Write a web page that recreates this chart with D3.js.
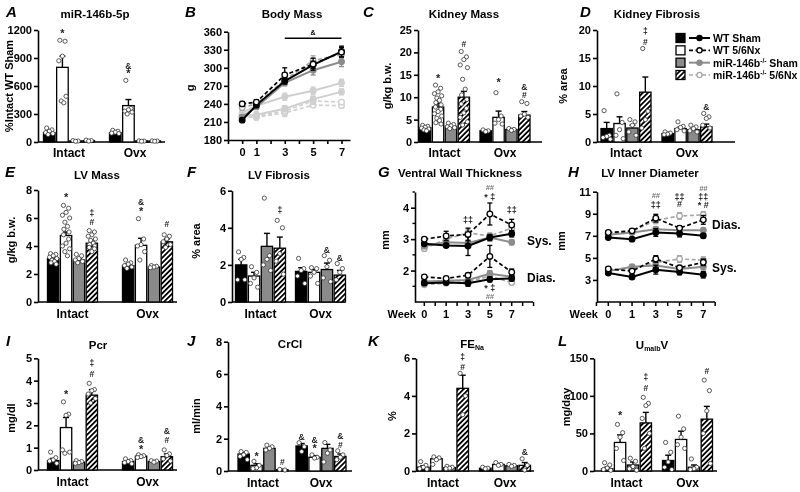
<!DOCTYPE html>
<html><head><meta charset="utf-8">
<script src="https://cdn.jsdelivr.net/npm/d3@7"></script>
<style>body{margin:0;background:#fff} #wrap{transform:translateZ(0);will-change:transform} svg{display:block} text{-webkit-font-smoothing:antialiased}</style>
</head><body><div id="wrap"><svg id="c" width="800" height="492"></svg></div>
<script>
const FONT = "Arial, 'Liberation Sans', Helvetica, sans-serif";
const groups = ["Intact", "Ovx"];
const seriesLabels = ["WT Sham", "WT 5/6Nx", "miR-146b|-/-| Sham", "miR-146b|-/-| 5/6Nx"];
const weeks = [0, 1, 3, 5, 7];

// ---- A miR-146b-5p
const mirTicks = [0, 300, 600, 900, 1200];
const mirMeanIntact = [100, 800, 12, 15];
const mirSemIntact = [15, 120, 3, 4];
const mirMeanOvx = [100, 390, 12, 12];
const mirSemOvx = [10, 65, 3, 3];
const mirPtsIntact = [[150, 130, 115, 100, 90, 80], [1090, 1080, 920, 870, 490, 440, 420], [15, 10, 8], [20, 15, 10]];
const mirPtsOvx = [[125, 115, 105, 95, 90], [660, 360, 345, 330, 320, 300], [12, 10, 8], [12, 10, 8]];
const mirMarks = [["Intact", 1, 1165, "*"], ["Ovx", 1, 735, "*"], ["Ovx", 1, 815, "&"]];

// ---- B Body mass
const bmTicks = [180, 210, 240, 270, 300, 330, 360];
const bmWtSham = [213, 238, 278, 305, 327];
const bmWtShamSem = [3, 4, 5, 6, 9];
const bmWt5 = [240, 243, 288, 306, 326];
const bmWt5Sem = [4, 4, 12, 10, 8];
const bmMiSham = [218, 235, 275, 296, 310];
const bmMiShamSem = [4, 4, 5, 8, 8];
const bmMi5 = [234, 240, 280, 312, 322];
const bmMi5Sem = [4, 4, 6, 8, 6];
const bmOvxWtSham = [225, 237, 252, 262, 275];
const bmOvxWtShamSem = [3, 4, 6, 6, 6];
const bmOvxMiSham = [220, 222, 232, 248, 260];
const bmOvxMiShamSem = [3, 4, 5, 5, 5];
const bmOvxWt5 = [222, 220, 228, 245, 243];
const bmOvxWt5Sem = [3, 7, 9, 6, 4];
const bmOvxMi5 = [218, 218, 225, 238, 237];
const bmOvxMi5Sem = [3, 4, 5, 4, 3];
const bmSigSpan = [3, 7];
const bmSigValue = 349;

// ---- C Kidney mass
const kmTicks = [0, 5, 10, 15, 20, 25];
const kmMeanIntact = [3.2, 7.8, 3.5, 10.0];
const kmSemIntact = [0.3, 0.8, 0.3, 1.3];
const kmMeanOvx = [2.5, 5.5, 2.8, 6.0];
const kmSemOvx = [0.2, 1.4, 0.2, 0.8];
const kmPtsIntact = [[3.7, 3.5, 3.3, 3.1, 2.9, 2.7, 2.5],
  [12.7, 12.0, 11.2, 10.8, 10.3, 9.8, 9.3, 8.8, 8.3, 7.8, 7.3, 6.8, 6.3, 5.8, 5.3, 4.8, 4.3, 4.0],
  [4.2, 3.9, 3.6, 3.4, 3.2, 3.0],
  [20.2, 19.0, 18.4, 17.2, 16.6, 14.0, 11.8, 10.5, 9.5, 8.5, 7.5, 6.5, 5.5, 4.5, 3.8]];
const kmPtsOvx = [[2.7, 2.5, 2.3], [11.0, 5.8, 5.0, 4.2, 4.0], [3.0, 2.8, 2.6], [9.0, 8.6, 6.2, 5.8, 5.5]];
const kmMarks = [["Intact", 1, 14.3, "*"], ["Intact", 3, 21.9, "#"], ["Ovx", 1, 13.3, "*"], ["Ovx", 3, 12.3, "&"], ["Ovx", 3, 10.4, "#"]];

// ---- D Kidney fibrosis
const kfTicks = [0, 5, 10, 15, 20];
const kfMeanIntact = [2.4, 3.3, 2.5, 8.9];
const kfSemIntact = [1.1, 1.2, 0.5, 2.7];
const kfMeanOvx = [1.5, 2.4, 2.2, 2.7];
const kfSemOvx = [0.2, 0.3, 0.3, 0.5];
const kfPtsIntact = [[5.6, 1.2, 1.0, 0.8, 0.5], [8.6, 3.5, 2.2, 1.2, 0.6], [4.0, 3.6, 3.0, 1.8, 1.2], [16.7, 5.5, 4.0, 2.5]];
const kfPtsOvx = [[1.8, 1.6, 1.4, 1.3], [3.6, 2.8, 2.6, 2.2, 2.0], [3.0, 2.7, 2.4, 2.0, 1.8], [5.1, 4.5, 4.2, 3.0, 2.5]];
const kfMarks = [["Intact", 3, 19.8, "‡"], ["Intact", 3, 17.9, "#"], ["Ovx", 3, 6.2, "&"]];

// ---- E LV mass
const lvmTicks = [0, 2, 4, 6, 8];
const lvmMeanIntact = [3.1, 4.75, 3.0, 4.2];
const lvmSemIntact = [0.1, 0.25, 0.1, 0.15];
const lvmMeanOvx = [2.6, 4.05, 2.5, 4.3];
const lvmSemOvx = [0.12, 0.5, 0.05, 0.2];
const lvmPtsIntact = [[3.45, 3.4, 3.3, 3.2, 3.1, 3.0, 2.9, 2.8, 2.7],
  [6.9, 6.7, 6.4, 6.2, 6.0, 5.7, 5.4, 5.2, 5.0, 4.8, 4.5, 4.2, 4.0, 3.8, 3.6, 3.3],
  [3.4, 3.3, 3.1, 3.0, 2.9, 2.8],
  [5.1, 5.0, 4.8, 4.7, 4.5, 4.4, 4.2, 4.1, 4.0, 3.9, 3.8, 3.6]];
const lvmPtsOvx = [[3.0, 2.8, 2.7, 2.6, 2.5, 2.4], [5.95, 4.5, 4.1, 4.0, 3.6, 3.0], [2.6, 2.55, 2.5, 2.45], [4.8, 4.7, 4.5, 4.3, 4.1, 3.9]];
const lvmMarks = [["Intact", 1, 7.5, "*"], ["Intact", 3, 6.35, "‡"], ["Intact", 3, 5.72, "#"], ["Ovx", 1, 7.15, "&"], ["Ovx", 1, 6.5, "*"], ["Ovx", 3, 5.6, "#"]];

// ---- F LV fibrosis
const lvfTicks = [0, 2, 4, 6];
const lvfMeanIntact = [2.0, 1.4, 3.0, 2.9];
const lvfSemIntact = [0.3, 0.2, 0.7, 0.6];
const lvfMeanOvx = [1.65, 1.6, 1.75, 1.45];
const lvfSemOvx = [0.2, 0.15, 0.35, 0.25];
const lvfPtsIntact = [[2.7, 2.4, 2.3, 1.2, 1.2], [1.9, 1.6, 1.3, 1.0, 0.8], [5.6, 2.5, 2.3, 2.0, 1.7], [4.4, 4.0, 2.6, 2.2, 1.5]];
const lvfPtsOvx = [[2.35, 1.8, 1.7, 1.4, 1.0], [1.85, 1.8, 1.6, 1.4, 1.0], [2.5, 2.25, 1.9, 1.3, 1.1], [2.07, 1.8, 1.6, 1.2]];
const lvfMarks = [["Intact", 3, 4.95, "‡"], ["Ovx", 2, 2.83, "&"], ["Ovx", 3, 2.38, "&"]];

// ---- G Ventral wall thickness
const vwTicks = [2, 3, 4];
const vwSysWtSham = [2.85, 2.8, 2.78, 3.05, 3.17];
const vwSysWtShamSem = [0.05, 0.05, 0.3, 0.1, 0.1];
const vwSysWt5 = [3.0, 3.1, 3.15, 3.8, 3.45];
const vwSysWt5Sem = [0.05, 0.15, 0.2, 0.35, 0.18];
const vwSysMiSham = [2.78, 2.9, 2.88, 3.05, 2.9];
const vwSysMiShamSem = [0.08, 0.1, 0.1, 0.1, 0.08];
const vwSysMi5 = [2.7, 3.0, 3.2, 3.1, 3.35];
const vwSysMi5Sem = [0.08, 0.1, 0.12, 0.1, 0.1];
const vwDiaWtSham = [1.6, 1.62, 1.6, 1.72, 1.75];
const vwDiaWtShamSem = [0.05, 0.05, 0.1, 0.08, 0.08];
const vwDiaWt5 = [1.8, 1.75, 1.85, 2.45, 1.95];
const vwDiaWt5Sem = [0.05, 0.05, 0.05, 0.35, 0.1];
const vwDiaMiSham = [1.65, 1.68, 1.7, 1.9, 1.8];
const vwDiaMiShamSem = [0.05, 0.05, 0.06, 0.1, 0.06];
const vwDiaMi5 = [1.55, 1.6, 1.65, 1.82, 1.62];
const vwDiaMi5Sem = [0.05, 0.05, 0.05, 0.08, 0.06];
const vwMarks = [[3, 3.62, "‡‡", 0], [5, 4.33, "* ‡", 0], [5, 4.64, "##", 1], [7, 3.93, "‡‡", 0], [5, 1.45, "* ‡", 0], [5, 1.18, "##", 1]];

// ---- H LV inner diameter
const idTicks = [3, 5, 7, 9, 11];
const idDiaWtSham = [6.85, 6.7, 7.3, 7.2, 7.0];
const idDiaWtShamSem = [0.15, 0.15, 0.35, 0.3, 0.2];
const idDiaWt5 = [7.3, 7.45, 8.6, 7.7, 8.45];
const idDiaWt5Sem = [0.15, 0.15, 0.35, 0.2, 0.4];
const idDiaMiSham = [7.1, 7.3, 7.6, 7.5, 7.5];
const idDiaMiShamSem = [0.15, 0.15, 0.2, 0.2, 0.2];
const idDiaMi5 = [7.2, 7.4, 8.4, 8.8, 8.9];
const idDiaMi5Sem = [0.15, 0.15, 0.3, 0.3, 0.3];
const idSysWtSham = [3.63, 3.27, 3.93, 3.72, 3.48];
const idSysWtShamSem = [0.15, 0.2, 0.4, 0.25, 0.3];
const idSysWt5 = [4.0, 3.8, 4.9, 4.1, 4.6];
const idSysWt5Sem = [0.15, 0.15, 0.3, 0.2, 0.3];
const idSysMiSham = [3.8, 4.2, 4.3, 4.0, 4.2];
const idSysMiShamSem = [0.15, 0.15, 0.2, 0.2, 0.2];
const idSysMi5 = [3.9, 4.0, 4.6, 4.9, 4.8];
const idSysMi5Sem = [0.15, 0.15, 0.3, 0.3, 0.3];
const idMarks = [[3, 10.7, "##", 1], [3, 9.8, "‡‡", 0], [5, 10.5, "‡‡", 0], [5, 9.9, "#", 0], [7, 11.3, "##", 1], [7, 10.55, "‡‡", 0], [7, 9.8, "* #", 0]];

// ---- I Pcr
const pcrTicks = [0, 1, 2, 3, 4, 5];
const pcrMeanIntact = [0.42, 1.9, 0.35, 3.35];
const pcrSemIntact = [0.1, 0.45, 0.05, 0.25];
const pcrMeanOvx = [0.38, 0.62, 0.38, 0.6];
const pcrSemOvx = [0.05, 0.04, 0.04, 0.12];
const pcrPtsIntact = [[0.8, 0.55, 0.45, 0.4, 0.3], [3.05, 2.5, 2.45, 0.9, 0.8, 0.75], [0.42, 0.38, 0.33, 0.3], [3.88, 3.6, 3.55, 3.4, 3.2, 3.0]];
const pcrPtsOvx = [[0.5, 0.42, 0.38, 0.33, 0.28], [0.68, 0.64, 0.6, 0.56], [0.42, 0.4, 0.35], [0.9, 0.72, 0.65, 0.5, 0.4]];
const pcrMarks = [["Intact", 1, 3.4, "*"], ["Intact", 3, 4.8, "‡"], ["Intact", 3, 4.3, "#"], ["Ovx", 1, 1.35, "&"], ["Ovx", 1, 0.95, "*"], ["Ovx", 3, 1.75, "&"], ["Ovx", 3, 1.35, "#"]];

// ---- J CrCl
const crTicks = [0, 2, 4, 6, 8];
const crMeanIntact = [1.05, 0.35, 1.4, 0.08];
const crSemIntact = [0.1, 0.1, 0.1, 0.03];
const crMeanOvx = [1.55, 0.85, 1.4, 0.9];
const crSemOvx = [0.15, 0.1, 0.25, 0.15];
const crPtsIntact = [[1.2, 1.15, 1.0, 0.9, 0.7], [0.6, 0.35, 0.2, 0.15], [1.6, 1.5, 1.4, 1.3], [0.1, 0.06]];
const crPtsOvx = [[1.75, 1.5, 1.2], [1.0, 0.85, 0.8], [1.76, 1.3, 1.1, 0.56], [1.25, 1.0, 0.85, 0.7]];
const crMarks = [["Intact", 1, 0.9, "*"], ["Intact", 3, 0.55, "#"], ["Ovx", 0, 2.1, "&"], ["Ovx", 1, 1.9, "&"], ["Ovx", 1, 1.4, "*"], ["Ovx", 3, 2.15, "&"], ["Ovx", 3, 1.6, "#"]];

// ---- K FENa
const feTicks = [0, 2, 4, 6];
const feMeanIntact = [0.2, 0.65, 0.18, 4.4];
const feSemIntact = [0.08, 0.06, 0.03, 0.7];
const feMeanOvx = [0.15, 0.35, 0.28, 0.3];
const feSemOvx = [0.03, 0.05, 0.03, 0.15];
const fePtsIntact = [[0.5, 0.3, 0.2, 0.12, 0.1], [0.75, 0.7, 0.6, 0.35], [0.25, 0.2, 0.15, 0.12], [5.2, 4.0, 3.0]];
const fePtsOvx = [[0.2, 0.15, 0.12], [0.45, 0.35, 0.3], [0.35, 0.3, 0.25], [0.65, 0.3, 0.05]];
const feMarks = [["Intact", 3, 6.05, "‡"], ["Intact", 3, 5.55, "#"], ["Ovx", 3, 1.0, "&"]];

// ---- L UmalbV
const uaTicks = [0, 50, 100, 150];
const uaMeanIntact = [3, 38, 8, 64];
const uaSemIntact = [2, 10, 4, 14];
const uaMeanOvx = [14, 42, 5, 69];
const uaSemOvx = [7, 11, 3, 17];
const uaPtsIntact = [[11, 8, 4, 2, 1], [62, 51, 45, 30, 14], [17, 13, 6, 3, 1], [98, 90, 87, 70, 50, 30]];
const uaPtsOvx = [[38, 25, 12, 5, 2], [73, 56, 45, 35, 30], [16, 5, 3, 2], [121, 107, 80, 50, 10]];
const uaMarks = [["Intact", 1, 74, "*"], ["Intact", 3, 125, "‡"], ["Intact", 3, 111, "#"], ["Ovx", 3, 133, "#"]];

// ================= drawing =================
const svg = d3.select("#c");
const defs = svg.append("defs");
const pat = defs.append("pattern").attr("id", "hatch").attr("patternUnits", "userSpaceOnUse")
  .attr("width", 3.6).attr("height", 3.6).attr("patternTransform", "rotate(45)");
pat.append("rect").attr("width", 3.6).attr("height", 3.6).attr("fill", "#fff");
pat.append("line").attr("x1", 1.8).attr("x2", 1.8).attr("y1", -1).attr("y2", 5).attr("stroke", "#000").attr("stroke-width", 1.8);

const barFills = ["#000", "#fff", "#8a8a8a", "url(#hatch)"];
const lineStyles = [
  {color: "#000", dash: null, fill: "#000", width: 2},
  {color: "#000", dash: "4,2.5", fill: "#fff", width: 1.7},
  {color: "#8c8c8c", dash: null, fill: "#8c8c8c", width: 2},
  {color: "#a8a8a8", dash: "4,2.5", fill: "#fff", width: 1.7}
];
const lightSolid = {color: "#cfcfcf", dash: null, fill: "#cfcfcf", width: 2};
const lightDash = {color: "#cfcfcf", dash: "4,2.5", fill: "#fff", width: 1.7};

function txt(x, y, s, o = {}) {
  return svg.append("text").attr("x", x).attr("y", y).text(s)
    .attr("font-family", FONT).attr("font-size", o.size || 11)
    .attr("font-weight", o.weight || "bold").attr("font-style", o.style || "normal")
    .attr("text-anchor", o.anchor || "middle").attr("fill", o.fill || "#000");
}
function yLabel(x, y, s) {
  svg.append("text").attr("transform", `translate(${x},${y}) rotate(-90)`)
    .attr("text-anchor", "middle").attr("dominant-baseline", "central")
    .attr("font-family", FONT).attr("font-size", 11).attr("font-weight", "bold").text(s);
}
function yAxis(x0, y, ticks, minor) {
  const a = svg.append("g").attr("transform", `translate(${x0},0)`)
    .call(d3.axisLeft(y).tickValues(ticks).tickSize(4).tickSizeOuter(0).tickPadding(2).tickFormat(d3.format("d")));
  a.attr("font-family", FONT).attr("font-size", 11).attr("font-weight", "bold");
  a.select(".domain").attr("stroke-width", 1.6);
  a.selectAll(".tick line").attr("stroke-width", 1.6);
  if (minor) minor.forEach(v => svg.append("line").attr("x1", x0 - 2.5).attr("x2", x0)
    .attr("y1", y(v)).attr("y2", y(v)).attr("stroke", "#000").attr("stroke-width", 1.4));
  return a;
}
function header(p, letter, title, ylab) {
  txt(p.letter[0], p.letter[1], letter, {size: 15, style: "italic", anchor: "start"});
  if (typeof title === "string") txt(p.title[0], p.title[1], title, {size: 11.5});
  else title(p.title[0], p.title[1]);
  yLabel(p.ylab[0], p.ylab[1], ylab);
}
const jit = [-2.6, 2.6, 0, -3.6, 3.6, -1.2, 1.4, -2.2, 3.0];

function barPanel(p, d) {
  const y = d3.scaleLinear().domain([0, d3.max(d.ticks)]).range([p.yBot, p.yTop]);
  const gx = d3.scaleOrdinal().domain(groups).range(p.gc);
  const sx = d3.scaleBand().domain([0, 1, 2, 3]).range([-p.gw / 2, p.gw / 2]).paddingInner(0.12);
  const bw = sx.bandwidth();
  yAxis(p.x0, y, d.ticks);
  svg.append("line").attr("x1", p.x0).attr("x2", p.x1).attr("y1", y(0)).attr("y2", y(0))
    .attr("stroke", "#000").attr("stroke-width", 1.6);
  groups.forEach((grp, gi) => {
    const means = gi ? d.meanO : d.meanI, sems = gi ? d.semO : d.semI, pts = gi ? d.ptsO : d.ptsI;
    means.forEach((m, i) => {
      const bx = gx(grp) + sx(i), cx = bx + bw / 2, top = y(m + sems[i]);
      svg.append("line").attr("x1", cx).attr("x2", cx).attr("y1", y(m)).attr("y2", top)
        .attr("stroke", "#000").attr("stroke-width", 1.4);
      svg.append("line").attr("x1", cx - 3).attr("x2", cx + 3).attr("y1", top).attr("y2", top)
        .attr("stroke", "#000").attr("stroke-width", 1.4);
      svg.append("rect").attr("x", bx).attr("y", y(m)).attr("width", bw).attr("height", y(0) - y(m))
        .attr("fill", barFills[i]).attr("stroke", "#000").attr("stroke-width", 1.3);
    });
    means.forEach((m, i) => {
      const cx = gx(grp) + sx(i) + bw / 2;
      pts[i].forEach((v, j) => svg.append("circle").attr("cx", cx + jit[j % jit.length]).attr("cy", y(v))
        .attr("r", 2.1).attr("fill", "#fff").attr("stroke", "#333").attr("stroke-width", 0.8));
    });
    txt(gx(grp), p.catY, grp, {size: 12});
  });
  d.marks.forEach(([grp, i, v, s]) => {
    const cx = gx(grp) + sx(i) + bw / 2;
    txt(cx, y(v), s, {size: s === "*" ? 11 : 8.5, fill: "#222"}).attr("dominant-baseline", "central");
  });
}

function errLine(g, x, y, xs, vals, sems, st) {
  const path = d3.line().x((d, i) => x(xs[i])).y(d => y(d));
  g.append("path").attr("d", path(vals)).attr("fill", "none").attr("stroke", st.color)
    .attr("stroke-width", st.width).attr("stroke-dasharray", st.dash);
  vals.forEach((v, i) => {
    const cx = x(xs[i]), a = v - sems[i], b = v + sems[i];
    g.append("line").attr("x1", cx).attr("x2", cx).attr("y1", y(a)).attr("y2", y(b)).attr("stroke", st.color).attr("stroke-width", 1.3);
    [a, b].forEach(e => g.append("line").attr("x1", cx - 2.5).attr("x2", cx + 2.5).attr("y1", y(e)).attr("y2", y(e)).attr("stroke", st.color).attr("stroke-width", 1.3));
  });
  vals.forEach((v, i) => g.append("circle").attr("cx", x(xs[i])).attr("cy", y(v)).attr("r", 2.8)
    .attr("fill", st.fill).attr("stroke", st.color).attr("stroke-width", 1.3));
}

// ---- layouts
const L = {
  A: {x0: 38, x1: 165, yTop: 30, yBot: 142, gc: [69, 135], gw: 51, catY: 157, letter: [6, 17], title: [95, 18], ylab: [9, 86]},
  B: {x0: 228, x1: 350, yTop: 31.7, yBot: 140, letter: [185, 17], title: [292, 18], ylab: [190, 88]},
  C: {x0: 418, x1: 542, yTop: 30, yBot: 142, gc: [444.5, 505], gw: 50, catY: 157, letter: [363, 17], title: [464, 18], ylab: [387, 86]},
  D: {x0: 597, x1: 735, yTop: 30, yBot: 142, gc: [626, 687], gw: 50, catY: 157, letter: [580, 17], title: [657, 18], ylab: [563, 86]},
  E: {x0: 38, x1: 177, yTop: 190, yBot: 302, gc: [72.5, 147.5], gw: 50, catY: 318, letter: [5, 177], title: [97, 179], ylab: [11, 240]},
  F: {x0: 232, x1: 345, yTop: 190.7, yBot: 302, gc: [260.5, 320.5], gw: 50, catY: 318, letter: [187, 177], title: [279, 179], ylab: [196, 241]},
  G: {x0: 415, x1: 533, yTop: 192, yBot: 302, first: 424.3, last: 511.7, weekY: 318, labX: 527, letter: [378, 177], title: [460, 177], ylab: [385, 240]},
  H: {x0: 597, x1: 715, yTop: 191.7, yBot: 302, first: 608.3, last: 703.3, weekY: 318, labX: 712, letter: [568, 177], title: [650, 177], ylab: [561, 241]},
  I: {x0: 38, x1: 177, yTop: 358.3, yBot: 470, gc: [72.5, 147.5], gw: 50, catY: 486, letter: [6, 346], title: [98, 349], ylab: [11, 418]},
  J: {x0: 228, x1: 352, yTop: 341.7, yBot: 471, gc: [263, 321], gw: 50, catY: 487, letter: [187, 346], title: [290, 348], ylab: [196, 416]},
  K: {x0: 416, x1: 534, yTop: 358.3, yBot: 471, gc: [443, 505], gw: 51, catY: 487, letter: [368, 346], title: [472, 348], ylab: [392, 416]},
  L: {x0: 594, x1: 717, yTop: 358.3, yBot: 471, gc: [626.5, 687.5], gw: 50, catY: 487, letter: [558, 346], title: [652, 349], ylab: [566, 407]}
};

// A
header(L.A, "A", "miR-146b-5p", "%Intact WT Sham");
barPanel(L.A, {ticks: mirTicks, meanI: mirMeanIntact, semI: mirSemIntact, meanO: mirMeanOvx, semO: mirSemOvx, ptsI: mirPtsIntact, ptsO: mirPtsOvx, marks: mirMarks});

// B
header(L.B, "B", "Body Mass", "g");
(function () {
  const p = L.B;
  const y = d3.scaleLinear().domain([180, 360]).range([p.yBot, p.yTop]);
  const x = d3.scaleLinear().domain([-1, 7.6]).range([p.x0, p.x1]);
  yAxis(p.x0, y, bmTicks);
  const ax = svg.append("g").attr("transform", `translate(0,${p.yBot})`)
    .call(d3.axisBottom(x).tickValues(d3.range(-1, 8)).tickSize(4).tickSizeOuter(0).tickPadding(4)
      .tickFormat(w => weeks.includes(w) ? w : ""));
  ax.attr("font-family", FONT).attr("font-size", 11).attr("font-weight", "bold");
  ax.select(".domain").attr("stroke-width", 1.6);
  ax.selectAll(".tick line").attr("stroke-width", 1.6);
  const g = svg.append("g");
  errLine(g, x, y, weeks, bmOvxMi5, bmOvxMi5Sem, lightDash);
  errLine(g, x, y, weeks, bmOvxWt5, bmOvxWt5Sem, lightDash);
  errLine(g, x, y, weeks, bmOvxMiSham, bmOvxMiShamSem, lightSolid);
  errLine(g, x, y, weeks, bmOvxWtSham, bmOvxWtShamSem, lightSolid);
  errLine(g, x, y, weeks, bmMi5, bmMi5Sem, lineStyles[3]);
  errLine(g, x, y, weeks, bmMiSham, bmMiShamSem, lineStyles[2]);
  errLine(g, x, y, weeks, bmWtSham, bmWtShamSem, lineStyles[0]);
  errLine(g, x, y, weeks, bmWt5, bmWt5Sem, lineStyles[1]);
  svg.append("line").attr("x1", x(bmSigSpan[0])).attr("x2", x(bmSigSpan[1])).attr("y1", y(bmSigValue)).attr("y2", y(bmSigValue))
    .attr("stroke", "#000").attr("stroke-width", 1.5);
  txt((x(bmSigSpan[0]) + x(bmSigSpan[1])) / 2, y(bmSigValue) - 3, "&", {size: 7});
})();

// C
header(L.C, "C", "Kidney Mass", "g/kg b.w.");
barPanel(L.C, {ticks: kmTicks, meanI: kmMeanIntact, semI: kmSemIntact, meanO: kmMeanOvx, semO: kmSemOvx, ptsI: kmPtsIntact, ptsO: kmPtsOvx, marks: kmMarks});

// D
header(L.D, "D", "Kidney Fibrosis", "% area");
barPanel(L.D, {ticks: kfTicks, meanI: kfMeanIntact, semI: kfSemIntact, meanO: kfMeanOvx, semO: kfSemOvx, ptsI: kfPtsIntact, ptsO: kfPtsOvx, marks: kfMarks});

// Legend
(function () {
  const rowY = d3.scalePoint().domain(seriesLabels).range([38, 75]);
  seriesLabels.forEach((s, i) => {
    const cy = rowY(s), st = lineStyles[i];
    svg.append("rect").attr("x", 676).attr("y", cy - 4.5).attr("width", 9).attr("height", 9)
      .attr("fill", barFills[i]).attr("stroke", "#000").attr("stroke-width", 1.3);
    svg.append("line").attr("x1", 689).attr("x2", 710).attr("y1", cy).attr("y2", cy)
      .attr("stroke", st.color).attr("stroke-width", st.width).attr("stroke-dasharray", st.dash);
    svg.append("circle").attr("cx", 699.5).attr("cy", cy).attr("r", 2.6).attr("fill", st.fill)
      .attr("stroke", st.color).attr("stroke-width", 1.3);
    const parts = s.split("|");
    const t = txt(713, cy + 4, parts[0], {anchor: "start", size: 10.5});
    if (parts.length > 1) {
      t.append("tspan").attr("font-size", 6.5).attr("dy", -4).text(parts[1]);
      t.append("tspan").attr("dy", 4).text(parts[2]);
    }
  });
})();

// E, F
header(L.E, "E", "LV Mass", "g/kg b.w.");
barPanel(L.E, {ticks: lvmTicks, meanI: lvmMeanIntact, semI: lvmSemIntact, meanO: lvmMeanOvx, semO: lvmSemOvx, ptsI: lvmPtsIntact, ptsO: lvmPtsOvx, marks: lvmMarks});
header(L.F, "F", "LV Fibrosis", "% area");
barPanel(L.F, {ticks: lvfTicks, meanI: lvfMeanIntact, semI: lvfSemIntact, meanO: lvfMeanOvx, semO: lvfSemOvx, ptsI: lvfPtsIntact, ptsO: lvfPtsOvx, marks: lvfMarks});

// G, H
function echoPanel(p, domain, ticks, minor, sets, marks, labels) {
  const y = d3.scaleLinear().domain(domain).range([p.yBot, p.yTop]);
  const x = d3.scalePoint().domain(weeks).range([p.first, p.last]);
  const step = x.step();
  yAxis(p.x0, y, ticks, minor);
  svg.append("line").attr("x1", p.x0).attr("x2", p.x1).attr("y1", p.yBot).attr("y2", p.yBot)
    .attr("stroke", "#000").attr("stroke-width", 1.6);
  d3.range(-1, 11).map(k => p.first + k * step / 2).filter(v => v >= p.x0 - 1 && v <= p.x1 + 1)
    .forEach(v => svg.append("line").attr("x1", v).attr("x2", v).attr("y1", p.yBot).attr("y2", p.yBot + 4)
      .attr("stroke", "#000").attr("stroke-width", 1.5));
  weeks.forEach(w => txt(x(w), p.weekY, w, {size: 11}));
  txt(p.x0 + 1, p.weekY, "Week", {size: 11, anchor: "end"});
  const g = svg.append("g");
  sets.forEach(set => [3, 2, 0, 1].forEach(i => errLine(g, x, y, weeks, set[i][0], set[i][1], lineStyles[i])));
  marks.forEach(([w, v, s, grey]) => txt(x(w), y(v), s, {size: grey ? 7.5 : 9, style: grey ? "italic" : "normal", fill: grey ? "#777" : "#222"})
    .attr("dominant-baseline", "central"));
  labels.forEach(([s, v]) => txt(p.labX, y(v), s, {size: 12, anchor: "start"}).attr("dominant-baseline", "central"));
}
header(L.G, "G", "Ventral Wall Thickness", "mm");
echoPanel(L.G, [1, 4.5], vwTicks, [1.5, 2.5, 3.5, 4.5],
  [[[vwSysWtSham, vwSysWtShamSem], [vwSysWt5, vwSysWt5Sem], [vwSysMiSham, vwSysMiShamSem], [vwSysMi5, vwSysMi5Sem]],
   [[vwDiaWtSham, vwDiaWtShamSem], [vwDiaWt5, vwDiaWt5Sem], [vwDiaMiSham, vwDiaMiShamSem], [vwDiaMi5, vwDiaMi5Sem]]],
  vwMarks, [["Sys.", 2.95], ["Dias.", 1.76]]);
header(L.H, "H", "LV Inner Diameter", "mm");
echoPanel(L.H, [1, 11], idTicks, [],
  [[[idDiaWtSham, idDiaWtShamSem], [idDiaWt5, idDiaWt5Sem], [idDiaMiSham, idDiaMiShamSem], [idDiaMi5, idDiaMi5Sem]],
   [[idSysWtSham, idSysWtShamSem], [idSysWt5, idSysWt5Sem], [idSysMiSham, idSysMiShamSem], [idSysMi5, idSysMi5Sem]]],
  idMarks, [["Dias.", 8.0], ["Sys.", 4.1]]);

// I-L
header(L.I, "I", "Pcr", "mg/dl");
barPanel(L.I, {ticks: pcrTicks, meanI: pcrMeanIntact, semI: pcrSemIntact, meanO: pcrMeanOvx, semO: pcrSemOvx, ptsI: pcrPtsIntact, ptsO: pcrPtsOvx, marks: pcrMarks});
header(L.J, "J", "CrCl", "ml/min");
barPanel(L.J, {ticks: crTicks, meanI: crMeanIntact, semI: crSemIntact, meanO: crMeanOvx, semO: crSemOvx, ptsI: crPtsIntact, ptsO: crPtsOvx, marks: crMarks});
header(L.K, "K", (x, y) => {
  const t = txt(x, y, "FE", {size: 11.5});
  t.append("tspan").attr("font-size", 7).attr("dy", 2).text("Na");
}, "%");
barPanel(L.K, {ticks: feTicks, meanI: feMeanIntact, semI: feSemIntact, meanO: feMeanOvx, semO: feSemOvx, ptsI: fePtsIntact, ptsO: fePtsOvx, marks: feMarks});
header(L.L, "L", (x, y) => {
  const t = txt(x, y, "U", {size: 11.5});
  t.append("tspan").attr("font-size", 7).attr("dy", 2).text("malb");
  t.append("tspan").attr("dy", -2).text("V");
}, "mg/day");
barPanel(L.L, {ticks: uaTicks, meanI: uaMeanIntact, semI: uaSemIntact, meanO: uaMeanOvx, semO: uaSemOvx, ptsI: uaPtsIntact, ptsO: uaPtsOvx, marks: uaMarks});
</script></body></html>
